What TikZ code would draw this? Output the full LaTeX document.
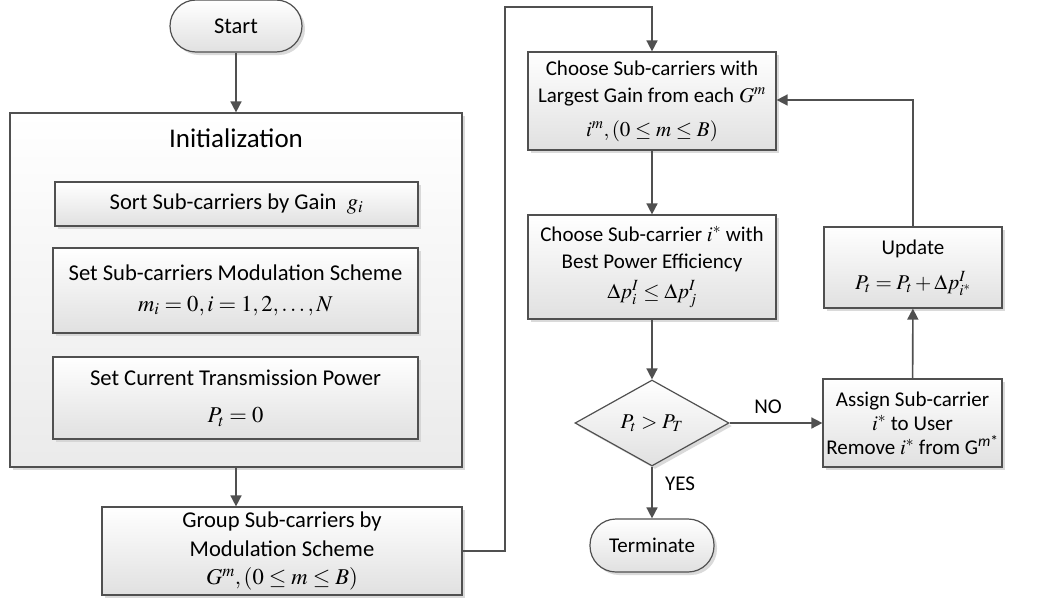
\documentclass[tikz,border=0pt]{standalone}
\usepackage{mathptmx}
\usepackage[no-math]{fontspec}
\setmainfont{Carlito}
\usetikzlibrary{arrows.meta,shapes.geometric,shadows}
\definecolor{ln}{HTML}{505050}
\tikzset{
  box/.style={draw=ln, line width=1.2pt, rectangle, align=center, inner sep=2pt,
    top color=white, bottom color=black!12,
    drop shadow={shadow xshift=3pt, shadow yshift=-3pt, fill=black!18, opacity=0.8},
    font=\fontsize{21}{27}\selectfont},
  bigbox/.style={box, font=\fontsize{22.6}{28.5}\selectfont},
  term/.style={box, rounded corners=26pt},
  dec/.style={draw=ln, line width=1.2pt, diamond, inner sep=0pt, align=center,
    top color=white, bottom color=black!12,
    drop shadow={shadow xshift=3pt, shadow yshift=-3pt, fill=black!18, opacity=0.8},
    font=\fontsize{21}{27}\selectfont},
  conn/.style={draw=ln, line width=1.6pt, -{Triangle[length=11pt,width=11pt]}},
  lab/.style={font=\fontsize{21}{25}\selectfont}
}
\begin{document}
\begin{tikzpicture}[x=1pt,y=-1pt]
\useasboundingbox (0,0) rectangle (1041,603);
\node[term, minimum width=132pt, minimum height=52pt, font=\fontsize{22.5}{27}\selectfont] (start) at (236,26) {Start};
\node[box, minimum width=452pt, minimum height=354pt, top color=white, bottom color=black!8] (init) at (236,290) {};
\node[lab, font=\fontsize{27}{32}\selectfont] (title) at (236,138) {Initialization};
\node[bigbox, minimum width=363pt, minimum height=44pt] (sort) at (236.5,204) {Sort Sub-carriers by Gain~~$g_i$};
\node[bigbox, minimum width=365pt, minimum height=85pt] (setmod) at (235.5,290.5) {Set Sub-carriers Modulation Scheme\\[2pt]$m_i=0, i=1,2,\ldots,N$};
\node[bigbox, minimum width=365pt, minimum height=82pt] (setpow) at (235.5,398) {Set Current Transmission Power\\[9pt]$P_t=0$};
\node[bigbox, minimum width=360pt, minimum height=88pt] (group) at (282,551) {Group Sub-carriers by\\Modulation Scheme\\$G^m, (0\le m\le B)$};
\node[box, minimum width=248pt, minimum height=98pt] (ch1) at (652,101) {Choose Sub-carriers with\\Largest Gain from each $G^m$\\[7pt]$i^m, (0\le m\le B)$};
\node[box, minimum width=248pt, minimum height=104pt] (ch2) at (652,267) {Choose Sub-carrier $i^*$ with\\Best Power Efficiency\\[3pt]$\Delta p_i^I\le \Delta p_j^I$};
\node[dec, minimum width=154pt, minimum height=86pt] (dec) at (652,423) {$P_t>P_T$};
\node[box, minimum width=179pt, minimum height=88pt, font=\fontsize{21}{24}\selectfont] (assign) at (912.5,423) {Assign Sub-carrier\\$i^*$ to User\\Remove $i^*$ from G\textsuperscript{\textit{m}*}};
\node[box, minimum width=178pt, minimum height=81pt] (update) at (913,267.5) {Update\\[8pt]$P_t=P_t+\Delta p_{i^*}^I$};
\node[term, minimum width=124pt, minimum height=53pt] (term) at (652,545.5) {Terminate};
\coordinate (g1) at (505,551);
\coordinate (g2) at (505,7);
\coordinate (g3) at (652,7);
\coordinate (u1) at (913,100);
\draw[conn] (start) -- (init);
\draw[conn] (init.south) -- (init.south |- group.north);
\draw[conn] (group.east) -- (g1) -- (g2) -- (g3) -- (ch1.north);
\draw[conn] (ch1) -- (ch2);
\draw[conn] (ch2) -- (dec);
\draw[conn] (dec.east) -- (assign.west);
\draw[conn] (dec.south) -- (term.north);
\draw[conn] (assign) -- (update);
\draw[conn] (update.north) -- (u1) -- (ch1.east |- u1);
\node[lab] (no) at (768,407) {NO};
\node[lab] (yes) at (680,484) {YES};
\end{tikzpicture}
\end{document}
